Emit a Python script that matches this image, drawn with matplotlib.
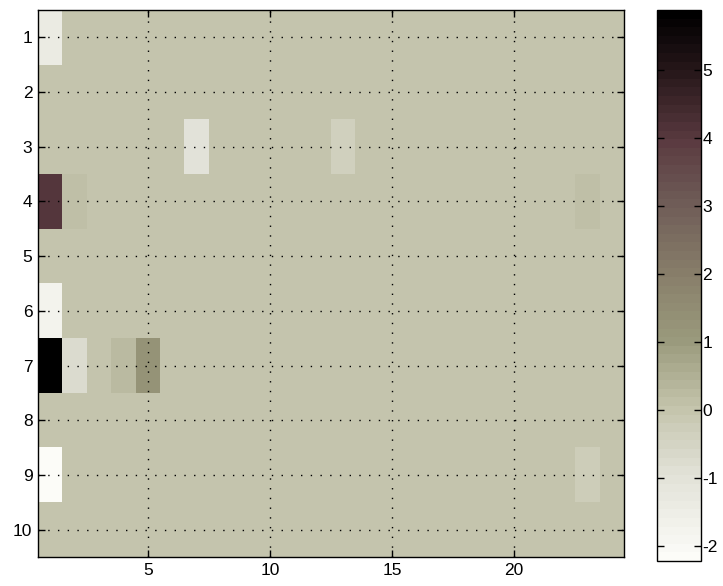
import numpy as np
import matplotlib
matplotlib.use("Agg")
import matplotlib.pyplot as plt
from matplotlib.colors import LinearSegmentedColormap, ListedColormap

# grid size
n_rows = 10
n_cols = 24

# non-zero cells: (row, col, value), 1-based like the picture
cell_rows = [1, 3, 3, 4, 4, 4, 6, 7, 7, 7, 7, 9, 9, 9]
cell_cols = [1, 7, 13, 1, 2, 23, 1, 1, 2, 4, 5, 1, 2, 23]
cell_vals = [-1.4, -1.0, -0.35, 4.0, 0.08, 0.08, -1.8, 5.88, -0.8, 0.3, 1.2, -2.22, 0.04, -0.3]

x_ticks = [5, 10, 15, 20]
y_ticks = list(range(1, 11))
cbar_ticks = [-2, -1, 0, 1, 2, 3, 4, 5]

# colormap anchors (value, rgb)
cmap_vals = [-2.22, -1.0, 0.0, 1.0, 2.0, 3.0, 4.0, 5.0, 5.88]
cmap_rgb = [(252, 252, 248), (225, 225, 215), (196, 196, 172), (154, 154, 124),
            (136, 126, 106), (112, 94, 88), (90, 58, 64), (40, 24, 27), (0, 0, 0)]

data = np.zeros((n_rows, n_cols))
for r, c, v in zip(cell_rows, cell_cols, cell_vals):
    data[r - 1, c - 1] = v

vmin, vmax = min(cell_vals), max(cell_vals)
pos = [(v - vmin) / (vmax - vmin) for v in cmap_vals]
smooth = LinearSegmentedColormap.from_list(
    "khaki", list(zip(pos, [tuple(ch / 255 for ch in c) for c in cmap_rgb])))
cmap = ListedColormap(smooth(np.linspace(0, 1, 64)))

plt.rcParams["font.family"] = ["Liberation Sans", "DejaVu Sans"]
plt.rcParams["font.size"] = 12
plt.rcParams["axes.unicode_minus"] = False

fig = plt.figure(figsize=(7.23, 5.86), dpi=100)
ax = fig.add_axes([38 / 723, 29 / 586, 586 / 723, 547 / 586])
im = ax.imshow(data, cmap=cmap, vmin=vmin, vmax=vmax, aspect="auto",
               interpolation="nearest",
               extent=(0.5, n_cols + 0.5, n_rows + 0.5, 0.5))

ax.set_xticks(x_ticks)
ax.set_yticks(y_ticks)
ax.tick_params(direction="in", length=5, width=1, top=True, right=True,
               colors="black", labelsize=12.5, pad=4)
ax.grid(True, color="black", linestyle=(0, (1, 6)), linewidth=1.0)
for s in ax.spines.values():
    s.set_linewidth(1.0)

cax = fig.add_axes([657 / 723, 25 / 586, 44 / 723, 551 / 586])
cb = fig.colorbar(im, cax=cax, ticks=cbar_ticks)
cb.ax.tick_params(direction="in", length=5, width=1, left=True, right=True,
                  labelsize=12.5, pad=1)
cb.outline.set_linewidth(1.0)

fig.savefig("out.png", dpi=100)
